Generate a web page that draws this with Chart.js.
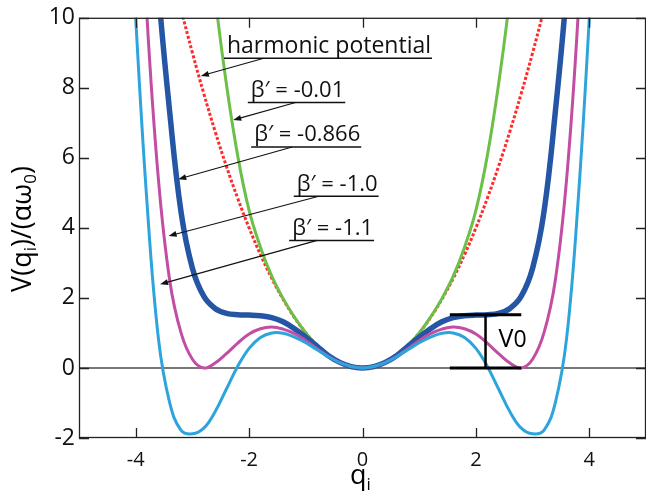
<!DOCTYPE html>
<html>
<head>
<meta charset="utf-8">
<script src="https://cdn.jsdelivr.net/npm/chart.js@4.4.1/dist/chart.umd.min.js"></script>
<style>
html, body { margin: 0; padding: 0; background: #fff; }
</style>
</head>
<body>
<canvas id="potChart" width="646" height="501"></canvas>
<script>
// q grid shared by all curves
var qValues = [-4.2, -4.0, -3.8, -3.6, -3.4, -3.2, -3.0, -2.8, -2.6, -2.4, -2.2, -2.0, -1.8, -1.6, -1.4, -1.2, -1.0, -0.8, -0.6, -0.4, -0.2,
    0, 0.2, 0.4, 0.6, 0.8, 1.0, 1.2, 1.4, 1.6, 1.8, 2.0, 2.2, 2.4, 2.6, 2.8, 3.0, 3.2, 3.4, 3.6, 3.8, 4.0, 4.2];

var harmonic = [null, null, null, null, 11.56, 10.24, 9.0, 7.84, 6.76, 5.76, 4.84, 4.0, 3.24, 2.56, 1.96, 1.44, 1.0, 0.64, 0.36, 0.16, 0.04,
    0, 0.04, 0.16, 0.36, 0.64, 1.0, 1.44, 1.96, 2.56, 3.24, 4.0, 4.84, 5.76, 6.76, 7.84, 9.0, 10.24, 11.56, null, null, null, null];
var beta001 = [null, null, null, null, null, null, null, 13.6, 10.6, 8.1, 6.05, 4.5, 3.45, 2.62, 1.98, 1.45, 1.0, 0.64, 0.36, 0.16, 0.04,
    0, 0.04, 0.16, 0.36, 0.64, 1.0, 1.45, 1.98, 2.62, 3.45, 4.5, 6.05, 8.1, 10.6, 13.6, null, null, null, null, null, null, null];
var beta0866 = [null, null, 15.5, 10.8, 7.3, 4.45, 2.85, 2.05, 1.70, 1.56, 1.52, 1.51, 1.49, 1.44, 1.32, 1.12, 0.88, 0.62, 0.35, 0.16, 0.04,
    0, 0.04, 0.16, 0.35, 0.62, 0.88, 1.12, 1.32, 1.44, 1.49, 1.51, 1.52, 1.56, 1.70, 2.05, 2.85, 4.45, 7.3, 10.8, 15.5, null, null];
var beta10 = [null, 16.5, 10.0, 5.4, 2.5, 1.0, 0.25, 0.0, 0.14, 0.41, 0.71, 0.97, 1.12, 1.17, 1.11, 0.98, 0.78, 0.55, 0.33, 0.15, 0.04,
    0, 0.04, 0.15, 0.33, 0.55, 0.78, 0.98, 1.11, 1.17, 1.12, 0.97, 0.71, 0.41, 0.14, 0.0, 0.25, 1.0, 2.5, 5.4, 10.0, 16.5, null];
var beta11 = [16.5, 10.0, 4.7, 0.85, -1.0, -1.78, -1.88, -1.72, -1.25, -0.6, 0.05, 0.56, 0.87, 1.0, 0.99, 0.88, 0.72, 0.52, 0.32, 0.15, 0.04,
    0, 0.04, 0.15, 0.32, 0.52, 0.72, 0.88, 0.99, 1.0, 0.87, 0.56, 0.05, -0.6, -1.25, -1.72, -1.88, -1.78, -1.0, 0.85, 4.7, 10.0, 16.5];

var xTicks = [-4, -2, 0, 2, 4];
var yTicks = [-2, 0, 2, 4, 6, 8, 10];

// callouts: label text, left/baseline of text, arrow tail q on the underline, arrow head
var callouts = [
    { text: 'harmonic potential', size: 23, q: -2.39, v: 9.0, tailQ: -1.74, head: [-2.85, 8.34] },
    { text: 'β′ = -0.01', size: 22, q: -1.97, v: 7.74, tailQ: -1.18, head: [-2.28, 7.08] },
    { text: 'β′ = -0.866', size: 22, q: -1.91, v: 6.47, tailQ: -1.24, head: [-3.25, 5.39] },
    { text: 'β′ = -1.0', size: 22, q: -1.16, v: 5.06, tailQ: -0.77, head: [-3.42, 3.77] },
    { text: 'β′ = -1.1', size: 22, q: -1.24, v: 3.80, tailQ: -0.80, head: [-3.57, 2.39] }
];
var v0Height = 1.52;
var v0Span = [1.54, 2.80, 2.17];

function toPoints(values) {
    var pts = [];
    for (var i = 0; i < qValues.length; i++) {
        if (values[i] !== null) pts.push({ x: qValues[i], y: values[i] });
    }
    return pts;
}

var FONT = "'Open Sans', 'Noto Sans', sans-serif";

function drawArrow(ctx, x1, y1, x2, y2) {
    var ang = Math.atan2(y2 - y1, x2 - x1);
    var len = 8, half = 3;
    ctx.beginPath();
    ctx.moveTo(x1, y1);
    ctx.lineTo(x2 - Math.cos(ang) * (len - 1), y2 - Math.sin(ang) * (len - 1));
    ctx.stroke();
    ctx.beginPath();
    ctx.moveTo(x2, y2);
    ctx.lineTo(x2 - len * Math.cos(ang) + half * Math.sin(ang), y2 - len * Math.sin(ang) - half * Math.cos(ang));
    ctx.lineTo(x2 - len * Math.cos(ang) - half * Math.sin(ang), y2 - len * Math.sin(ang) + half * Math.cos(ang));
    ctx.closePath();
    ctx.fill();
}

function drawParts(ctx, parts, x, y) {
    for (var i = 0; i < parts.length; i++) {
        var p = parts[i];
        ctx.font = p.size + 'px ' + FONT;
        ctx.fillText(p.t, x, y + (p.dy || 0));
        x += ctx.measureText(p.t).width;
    }
}

function partsWidth(ctx, parts) {
    var w = 0;
    for (var i = 0; i < parts.length; i++) {
        ctx.font = parts[i].size + 'px ' + FONT;
        w += ctx.measureText(parts[i].t).width;
    }
    return w;
}

var framePlugin = {
    id: 'framePlugin',
    beforeDatasetsDraw: function (chart) {
        var ctx = chart.ctx, a = chart.chartArea, y = chart.scales.y;
        var y0 = y.getPixelForValue(0);
        ctx.save();
        ctx.strokeStyle = '#4a4a4a';
        ctx.lineWidth = 1.5;
        ctx.beginPath();
        ctx.moveTo(a.left, y0);
        ctx.lineTo(a.right, y0);
        ctx.stroke();
        ctx.restore();
    },
    afterDraw: function (chart) {
        var ctx = chart.ctx, a = chart.chartArea;
        var xs = chart.scales.x, ys = chart.scales.y;
        ctx.save();

        // frame with inward ticks
        ctx.strokeStyle = '#222';
        ctx.lineWidth = 1.3;
        ctx.strokeRect(a.left + 0.5, a.top + 0.5, a.right - a.left - 1, a.bottom - a.top - 1);
        ctx.beginPath();
        xTicks.forEach(function (t) {
            var px = Math.round(xs.getPixelForValue(t)) + 0.5;
            ctx.moveTo(px, a.bottom); ctx.lineTo(px, a.bottom - 10);
            ctx.moveTo(px, a.top); ctx.lineTo(px, a.top + 10);
        });
        yTicks.forEach(function (t) {
            var py = Math.round(ys.getPixelForValue(t)) + 0.5;
            ctx.moveTo(a.left, py); ctx.lineTo(a.left + 10, py);
            ctx.moveTo(a.right, py); ctx.lineTo(a.right - 10, py);
        });
        ctx.stroke();

        // callouts
        ctx.fillStyle = '#111';
        ctx.strokeStyle = '#111';
        ctx.textBaseline = 'alphabetic';
        ctx.textAlign = 'left';
        callouts.forEach(function (c) {
            var tx = xs.getPixelForValue(c.q), ty = ys.getPixelForValue(c.v);
            ctx.font = c.size + 'px ' + FONT;
            ctx.fillText(c.text, tx, ty);
            var w = ctx.measureText(c.text).width;
            var uy = ty + 5.5;
            ctx.lineWidth = 1.5;
            ctx.beginPath();
            ctx.moveTo(tx - 3, uy);
            ctx.lineTo(tx + w + 1, uy);
            ctx.stroke();
            ctx.lineWidth = 1.1;
            drawArrow(ctx, xs.getPixelForValue(c.tailQ), uy,
                xs.getPixelForValue(c.head[0]), ys.getPixelForValue(c.head[1]));
        });

        // V0 bracket
        var bx1 = xs.getPixelForValue(v0Span[0]), bx2 = xs.getPixelForValue(v0Span[1]);
        var bxm = xs.getPixelForValue(v0Span[2]);
        var byTop = ys.getPixelForValue(v0Height), byBot = ys.getPixelForValue(0);
        ctx.strokeStyle = '#000';
        ctx.lineWidth = 3;
        ctx.beginPath();
        ctx.moveTo(bx1, byTop); ctx.lineTo(bx2, byTop);
        ctx.moveTo(bx1, byBot); ctx.lineTo(bx2, byBot);
        ctx.stroke();
        ctx.lineWidth = 2.5;
        ctx.beginPath();
        ctx.moveTo(bxm, byTop); ctx.lineTo(bxm, byBot);
        ctx.stroke();
        ctx.fillStyle = '#000';
        drawParts(ctx, [{ t: 'V', size: 25 }, { t: '0', size: 23 }],
            xs.getPixelForValue(2.40), ys.getPixelForValue(0.61));

        // axis titles
        ctx.fillStyle = '#000';
        var yParts = [
            { t: 'V(q', size: 27 }, { t: 'i', size: 17, dy: 5 }, { t: ')/(αω', size: 27 },
            { t: '0', size: 17, dy: 5 }, { t: ')', size: 27 }
        ];
        ctx.save();
        ctx.translate(31, 229);
        ctx.rotate(-Math.PI / 2);
        drawParts(ctx, yParts, -partsWidth(ctx, yParts) / 2, 0);
        ctx.restore();

        var xParts = [{ t: 'q', size: 27 }, { t: 'i', size: 17, dy: 6 }];
        drawParts(ctx, xParts, (a.left + a.right) / 2 - 2 - partsWidth(ctx, xParts) / 2, 484);

        ctx.restore();
    }
};

var chartData = {
    datasets: [
        { label: 'β′ = -1.1', data: toPoints(beta11), borderColor: '#2ea4dd', borderWidth: 3, order: 0 },
        { label: 'β′ = -1.0', data: toPoints(beta10), borderColor: '#c24ea3', borderWidth: 3, order: 1 },
        { label: 'β′ = -0.866', data: toPoints(beta0866), borderColor: '#2456a5', borderWidth: 5.5, order: 2 },
        { label: 'β′ = -0.01', data: toPoints(beta001), borderColor: '#6cbf47', borderWidth: 3, order: 3 },
        { label: 'harmonic potential', data: toPoints(harmonic), borderColor: '#ff2a2a', borderWidth: 3,
            borderDash: [3, 2], order: 4 }
    ]
};

new Chart(document.getElementById('potChart'), {
    type: 'line',
    data: chartData,
    options: {
        responsive: false,
        animation: false,
        devicePixelRatio: 1,
        layout: { padding: { top: 11, right: -2, left: 0, bottom: 0 } },
        elements: {
            point: { radius: 0 },
            line: { tension: 0.4, fill: false, borderCapStyle: 'butt' }
        },
        datasets: { line: { clip: 0 } },
        plugins: { legend: { display: false }, tooltip: { enabled: false } },
        scales: {
            x: {
                type: 'linear',
                min: -5,
                max: 5,
                afterBuildTicks: function (s) { s.ticks = xTicks.map(function (v) { return { value: v }; }); },
                afterFit: function (s) { s.height = 63; },
                grid: { display: false, drawTicks: false },
                border: { display: false },
                ticks: { color: '#111', font: { family: FONT, size: 20 }, padding: 10, maxRotation: 0 }
            },
            y: {
                min: -2,
                max: 10,
                afterBuildTicks: function (s) { s.ticks = yTicks.map(function (v) { return { value: v }; }); },
                afterFit: function (s) { s.width = 79; },
                grid: { display: false, drawTicks: false },
                border: { display: false },
                ticks: { color: '#111', font: { family: FONT, size: 23 }, padding: 4 }
            }
        }
    },
    plugins: [framePlugin]
});
</script>
</body>
</html>
